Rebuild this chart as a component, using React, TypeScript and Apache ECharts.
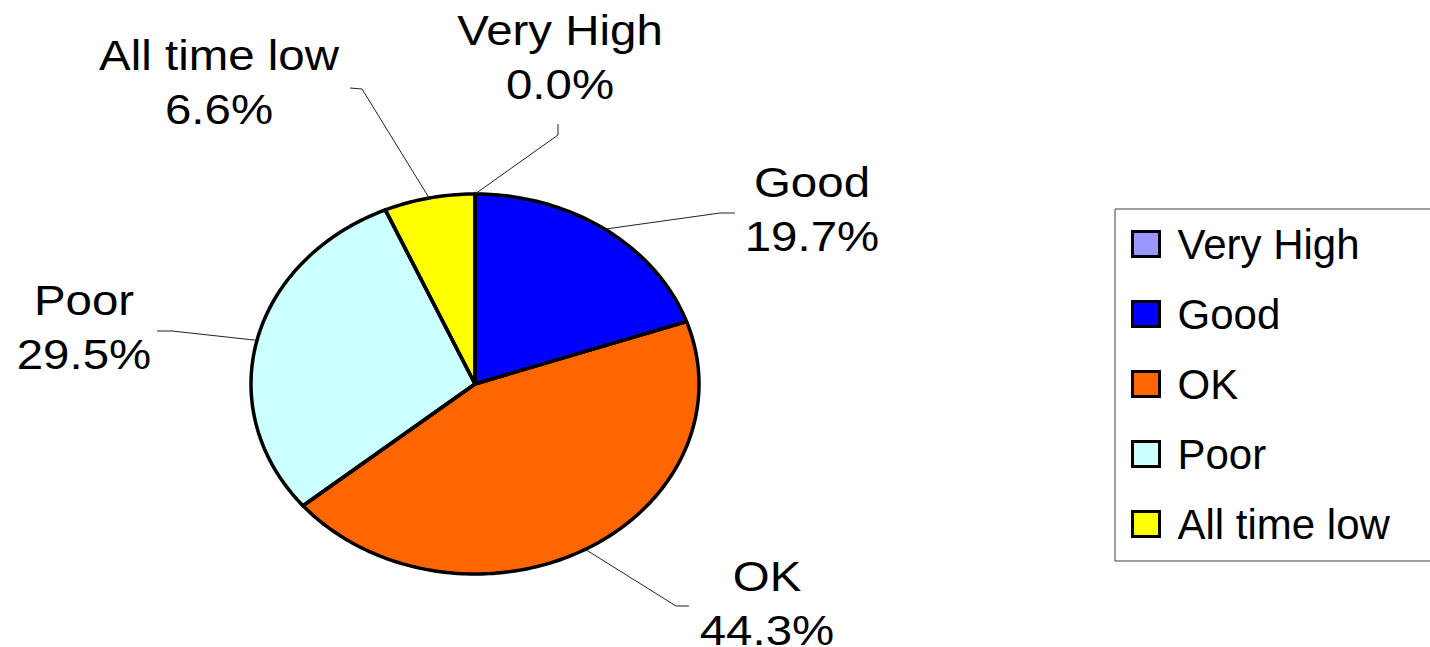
import React, { useEffect, useRef } from "react";
import * as echarts from "echarts";

const categories = ["Very High", "Good", "OK", "Poor", "All time low"];
const counts = [0, 12, 27, 18, 4];
const colors = ["#9999FF", "#0000FF", "#FF6600", "#CCFFFF", "#FFFF00"];

// layout of the pie (ellipse) and of each label
const CX = 475;
const CY = 384;
const RX = 224;
const RY = 190;
const labelLayout = [
  { tx: 560, ty: 57, elbow: [558, 135], end: [558, 124] },
  { tx: 812, ty: 209, elbow: [720, 213], end: [735, 213] },
  { tx: 767, ty: 603, elbow: [676, 606], end: [689, 606] },
  { tx: 84, ty: 327, elbow: [172, 331], end: [157, 331] },
  { tx: 219, ty: 82, elbow: [362, 89], end: [350, 88] },
];

const FONT = "'Liberation Sans', Arial, sans-serif";

function pt(a: number): [number, number] {
  return [CX + RX * Math.sin(a), CY - RY * Math.cos(a)];
}

export default function App() {
  const ref = useRef<HTMLDivElement>(null);
  useEffect(() => {
    const chart = echarts.init(ref.current!, null, { renderer: "svg" });
    const total = counts.reduce((s, v) => s + v, 0);

    const series = categories.map((name, i) => ({
      type: "custom",
      name,
      coordinateSystem: "none",
      itemStyle: { color: colors[i] },
      data: [[counts[i]]],
      renderItem: (params: any, api: any) => {
        const idx = params.seriesIndex;
        const v = api.value(0);
        let before = 0;
        for (let k = 0; k < idx; k++) before += counts[k];
        const a0 = (before / total) * Math.PI * 2;
        const a1 = ((before + v) / total) * Math.PI * 2;
        const children: any[] = [];
        if (v > 0) {
          const pts: number[][] = [[CX, CY]];
          const steps = Math.max(2, Math.ceil(((a1 - a0) * 180) / Math.PI));
          for (let s = 0; s <= steps; s++) {
            pts.push(pt(a0 + ((a1 - a0) * s) / steps));
          }
          children.push({
            type: "polygon",
            shape: { points: pts },
            style: { fill: colors[idx], stroke: null },
            z2: 1,
          });
          children.push({
            type: "polygon",
            shape: { points: pts },
            style: {
              fill: null,
              stroke: "#000",
              lineWidth: 3.5,
              lineJoin: "round",
            },
            z2: 2,
          });
        }
        const mid = (a0 + a1) / 2;
        const lay = labelLayout[idx];
        const st = pt(mid);
        children.push({
          type: "polyline",
          shape: { points: [st, lay.elbow, lay.end] },
          style: { stroke: "#222", lineWidth: 1, fill: null },
          z2: 3,
        });
        const pct = ((v / total) * 100).toFixed(1) + "%";
        children.push({
          type: "text",
          x: lay.tx,
          y: lay.ty,
          scaleX: 1.13,
          style: {
            text: categories[idx] + "\n" + pct,
            align: "center",
            verticalAlign: "middle",
            fontSize: 42,
            lineHeight: 55,
            fontFamily: FONT,
            fill: "#000",
          },
          z2: 4,
        });
        return { type: "group", children };
      },
    }));

    chart.setOption({
      animation: false,
      backgroundColor: "#fff",
      legend: {
        orient: "vertical",
        left: 1115,
        top: 209,
        data: categories,
        icon: "rect",
        itemWidth: 27,
        itemHeight: 25,
        itemGap: 28,
        padding: [14, 80, 16, 16],
        borderColor: "#404040",
        borderWidth: 1,
        itemStyle: { borderColor: "#000", borderWidth: 3 },
        textStyle: {
          fontSize: 42,
          fontFamily: FONT,
          color: "#000",
          padding: [0, 0, 0, 13],
        },
        selectedMode: false,
      },
      series,
    });
    return () => chart.dispose();
  }, []);
  return (
    <div
      ref={ref}
      style={{ position: "fixed", left: 0, top: 0, width: 1430, height: 647 }}
    />
  );
}
